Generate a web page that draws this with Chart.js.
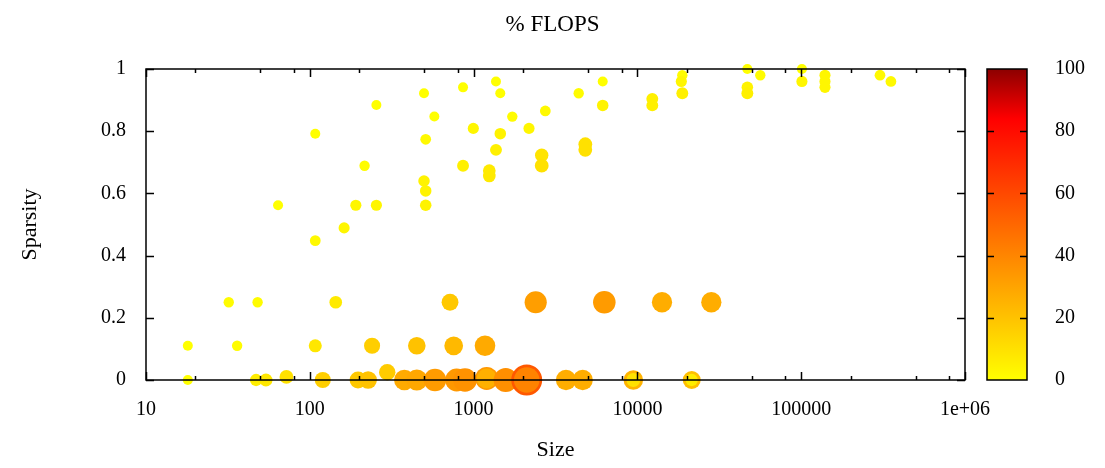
<!DOCTYPE html>
<html>
<head>
<meta charset="utf-8">
<script src="https://cdn.jsdelivr.net/npm/chart.js@4.4.1/dist/chart.umd.min.js"></script>
<style>
  html, body { margin: 0; padding: 0; background: #fff; }
  #wrap { width: 1105px; height: 468px; }
</style>
</head>
<body>
<div id="wrap"><canvas id="flopsChart"></canvas></div>
<script>
// ===== data =====
const sizes = [
    18, 18, 32, 48, 36, 47, 54, 72, 108, 144,
    120, 197, 227, 240, 297, 378, 450, 450, 718, 581,
    756, 788, 886, 1174, 1202, 1202, 1570, 2110, 2110, 2394,
    3665, 4636, 6281, 9441, 9441, 14130, 21460, 21460, 28270,
    64, 108, 108, 162, 191, 216, 255, 255, 498, 498,
    510, 510, 510, 576, 862, 862, 996, 1247, 1247, 1370,
    1370, 1455, 1455, 1723, 2179, 2605, 2605, 2740, 4381, 4808,
    4808, 6140, 6140, 12330, 12330, 18800, 18540, 18800, 46900, 46900,
    46900, 56270, 101000, 101000, 139700, 139700, 139700, 302700, 353000
];
const sparsity = [
    0, 0.11, 0.25, 0.25, 0.11, 0, 0, 0.01, 0.11, 0.25,
    0, 0, 0, 0.11, 0.025, 0, 0, 0.11, 0.25, 0,
    0.11, 0, 0, 0.11, 0.005, 0.005, 0, 0, 0, 0.25,
    0, 0, 0.25, 0, 0, 0.25, 0, 0, 0.25,
    0.562, 0.792, 0.448, 0.489, 0.562, 0.689, 0.884, 0.562, 0.922, 0.640,
    0.774, 0.608, 0.562, 0.847, 0.941, 0.689, 0.809, 0.673, 0.656, 0.960,
    0.740, 0.922, 0.792, 0.847, 0.809, 0.723, 0.689, 0.865, 0.922, 0.758,
    0.740, 0.960, 0.883, 0.904, 0.883, 0.980, 0.960, 0.922, 1.0, 0.941,
    0.922, 0.980, 1.0, 0.960, 0.980, 0.960, 0.941, 0.980, 0.960
];
// % FLOPS (colour value)
const flops = [
    0, 0, 1, 1, 1, 6, 8, 10, 8, 7,
    16, 18, 20, 16, 17, 28, 29, 20, 18, 33,
    23, 34, 36, 28, 34, 26, 37, 55, 41, 32,
    27, 27, 33, 25, 10, 27, 21, 6, 27,
    0, 0, 2, 3, 3, 1, 0, 3, 0, 4,
    2, 4, 4, 0, 0, 5, 3, 7, 7, 0,
    5, 0, 4, 1, 3, 9, 10, 2, 1, 10,
    10, 0, 4, 5, 5, 1, 3, 5, 0, 4,
    5, 1, 0, 3, 3, 3, 3, 2, 2
];

const xTicks = [10, 100, 1000, 10000, 100000, 1000000];
const xTickLabels = ['10', '100', '1000', '10000', '100000', '1e+06'];
const xMinorMult = [2, 5, 8];
const yTicks = [0, 0.2, 0.4, 0.6, 0.8, 1];
const yTickLabels = ['0', '0.2', '0.4', '0.6', '0.8', '1'];
const cbTicks = [0, 20, 40, 60, 80, 100];
const cbTickLabels = ['0', '20', '40', '60', '80', '100'];

const FONT = "'Liberation Serif', 'DejaVu Serif', serif";

// palette: yellow -> red (84) -> dark red (100)
function paletteColor(v) {
    if (v <= 84) {
        const g = Math.round(255 * (1 - v / 84));
        return `rgb(255, ${g}, 0)`;
    }
    const r = Math.round(255 - 115 * (v - 84) / 16);
    return `rgb(${r}, 0, 0)`;
}

// point radius grows with the flops value
function pointRadius(v) {
    return 5 + 0.19 * v;
}

const points = sizes.map((s, i) => ({ x: s, y: sparsity[i], r: pointRadius(flops[i]) }));

// frame, inward tick marks and colour bar
const framePlugin = {
    id: 'frame',
    afterDatasetsDraw(chart) {
        const { ctx, chartArea: a, scales } = chart;
        const xs = scales.x, ys = scales.y, cb = scales.cb;
        ctx.save();
        ctx.strokeStyle = '#000';
        ctx.lineWidth = 1.5;
        ctx.beginPath();
        // major x ticks
        xTicks.forEach(v => {
            const px = Math.round(xs.getPixelForValue(v)) + 0.5;
            ctx.moveTo(px, a.bottom); ctx.lineTo(px, a.bottom - 8);
            ctx.moveTo(px, a.top); ctx.lineTo(px, a.top + 8);
        });
        // minor x ticks
        xTicks.slice(0, -1).forEach(base => {
            xMinorMult.forEach(m => {
                const px = Math.round(xs.getPixelForValue(base * m)) + 0.5;
                ctx.moveTo(px, a.bottom); ctx.lineTo(px, a.bottom - 4);
                ctx.moveTo(px, a.top); ctx.lineTo(px, a.top + 4);
            });
        });
        // y ticks
        yTicks.forEach(v => {
            const py = Math.round(ys.getPixelForValue(v)) + 0.5;
            ctx.moveTo(a.left, py); ctx.lineTo(a.left + 8, py);
            ctx.moveTo(a.right, py); ctx.lineTo(a.right - 8, py);
        });
        ctx.stroke();
        ctx.strokeRect(a.left, a.top, a.right - a.left, a.bottom - a.top);

        // colour bar
        const bx = a.right + 22, bw = 40;
        const top = cb.getPixelForValue(100), bot = cb.getPixelForValue(0);
        const grad = ctx.createLinearGradient(0, bot, 0, top);
        grad.addColorStop(0, paletteColor(0));
        grad.addColorStop(0.84, paletteColor(84));
        grad.addColorStop(1, paletteColor(100));
        ctx.fillStyle = grad;
        ctx.fillRect(bx, top, bw, bot - top);
        ctx.strokeRect(bx, top, bw, bot - top);
        ctx.beginPath();
        cbTicks.slice(1, -1).forEach(v => {
            const py = Math.round(cb.getPixelForValue(v)) + 0.5;
            ctx.moveTo(bx, py); ctx.lineTo(bx + 7, py);
            ctx.moveTo(bx + bw, py); ctx.lineTo(bx + bw - 7, py);
        });
        ctx.stroke();
        ctx.restore();
    }
};

const ctx = document.getElementById('flopsChart').getContext('2d');
new Chart(ctx, {
    type: 'bubble',
    data: {
        datasets: [{
            label: '% FLOPS',
            data: points,
            backgroundColor: flops.map(paletteColor),
            borderWidth: 0,
            hoverBorderWidth: 0,
            clip: false
        }]
    },
    options: {
        responsive: true,
        maintainAspectRatio: false,
        animation: false,
        events: [],
        layout: { padding: 0 },
        plugins: {
            legend: { display: false },
            tooltip: { enabled: false },
            title: {
                display: true,
                text: '% FLOPS',
                color: '#000',
                font: { family: FONT, size: 23, weight: 'normal' },
                padding: { top: 11, bottom: 30.4 }
            }
        },
        scales: {
            x: {
                type: 'logarithmic',
                position: 'bottom',
                min: 10,
                max: 1000000,
                grid: { display: false, drawTicks: false },
                border: { display: false },
                afterBuildTicks: s => { s.ticks = xTicks.map(v => ({ value: v })); },
                afterFit: s => { s.height = 88; },
                ticks: {
                    color: '#000',
                    font: { family: FONT, size: 20 },
                    padding: 18,
                    maxRotation: 0,
                    autoSkip: false,
                    callback: (v, i) => xTickLabels[i]
                },
                title: {
                    display: true,
                    text: 'Size',
                    color: '#000',
                    font: { family: FONT, size: 22 },
                    padding: { top: 0, bottom: 5 }
                }
            },
            y: {
                type: 'linear',
                position: 'left',
                min: 0,
                max: 1,
                grid: { display: false, drawTicks: true, tickLength: 18 },
                border: { display: false },
                afterBuildTicks: s => { s.ticks = yTicks.map(v => ({ value: v })); },
                afterFit: s => { s.width = 146; },
                ticks: {
                    color: '#000',
                    font: { family: FONT, size: 20 },
                    padding: 2,
                    callback: (v, i) => yTickLabels[i]
                },
                title: {
                    display: true,
                    text: 'Sparsity',
                    color: '#000',
                    font: { family: FONT, size: 22 },
                    padding: { top: 17, bottom: 17 }
                }
            },
            cb: {
                type: 'linear',
                position: 'right',
                min: 0,
                max: 100,
                grid: { display: false, drawTicks: true, tickLength: 88 },
                border: { display: false },
                afterBuildTicks: s => { s.ticks = cbTicks.map(v => ({ value: v })); },
                afterFit: s => { s.width = 140; },
                ticks: {
                    color: '#000',
                    font: { family: FONT, size: 20 },
                    padding: 2,
                    callback: (v, i) => cbTickLabels[i]
                }
            }
        }
    },
    plugins: [framePlugin]
});
</script>
</body>
</html>
